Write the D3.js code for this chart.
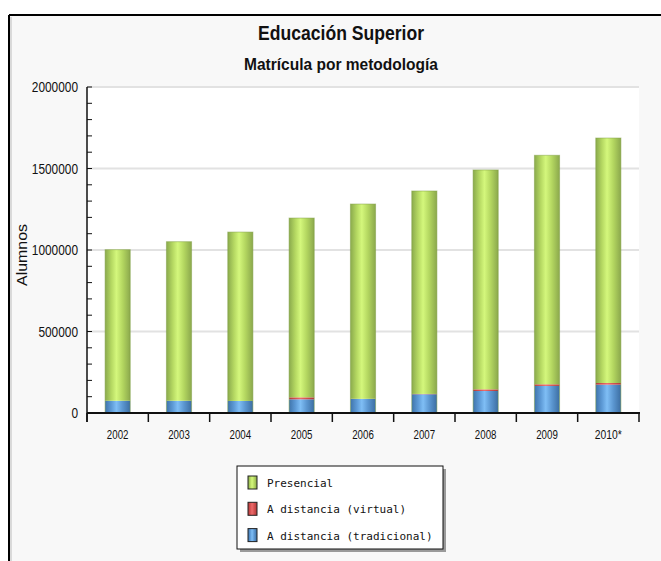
<!DOCTYPE html>
<html>
<head>
<meta charset="utf-8">
<script src="https://cdn.jsdelivr.net/npm/d3@7"></script>
<style>
  body { margin:0; background:#fff; }
  svg text { fill:#111; }
</style>
</head>
<body>
<div class="canvas"></div>
<script>
// data
const years = ['2002','2003','2004','2005','2006','2007','2008','2009','2010*'];
const tradicional = [75000, 75000, 74000, 84000, 86000, 115000, 135000, 166000, 174000];
const virtual = [0, 0, 0, 12000, 1000, 2000, 10000, 10000, 10000];
const presencial = [927000, 976000, 1036000, 1100000, 1195000, 1245000, 1346000, 1405000, 1503000];
const yTicks = [0, 500000, 1000000, 1500000, 2000000];
const seriesNames = ['Presencial', 'A distancia (virtual)', 'A distancia (tradicional)'];

const SANS = '"Liberation Sans", Arial, sans-serif';
const MONO = '"DejaVu Sans Mono", "Liberation Mono", monospace';

const W = 661, H = 561;
const svg = d3.select('.canvas')
  .append('svg')
    .attr('width', W)
    .attr('height', H)
    .style('font-family', SANS);

// plot box
const plot = {left:87, right:639, top:87, bottom:413};

// frame
svg.append('rect').attr('x',9).attr('y',15).attr('width',W).attr('height',H)
  .attr('fill','#f8f8f8');
svg.append('line').attr('x1',9).attr('x2',W).attr('y1',15).attr('y2',15)
  .attr('stroke','#000').attr('stroke-width',2);
svg.append('line').attr('x1',9).attr('x2',9).attr('y1',15).attr('y2',H)
  .attr('stroke','#000').attr('stroke-width',2);
svg.append('line').attr('x1',11).attr('x2',11).attr('y1',17).attr('y2',H)
  .attr('stroke','#bbb').attr('stroke-width',1);

svg.append('rect')
  .attr('x',plot.left).attr('y',plot.top)
  .attr('width',plot.right-plot.left).attr('height',plot.bottom-plot.top)
  .attr('fill','#fff');

// titles (narrow look via textLength)
svg.append('text').attr('x',341).attr('y',40).attr('text-anchor','middle')
  .attr('font-size',21).attr('font-weight','bold')
  .attr('textLength',166).attr('lengthAdjust','spacingAndGlyphs')
  .text('Educación Superior');
svg.append('text').attr('x',341).attr('y',70).attr('text-anchor','middle')
  .attr('font-size',16).attr('font-weight','bold')
  .attr('textLength',194).attr('lengthAdjust','spacingAndGlyphs')
  .text('Matrícula por metodología');

const y = d3.scaleLinear()
  .domain([0, 2000000])
  .range([plot.bottom, plot.top]);

const x = d3.scaleBand()
  .domain(years)
  .range([plot.left, plot.right])
  .paddingInner(0.59)
  .paddingOuter(0.295);

// gridlines
svg.append('g').selectAll('line')
  .data(yTicks.slice(1))
  .enter().append('line')
    .attr('x1',plot.left).attr('x2',plot.right)
    .attr('y1',d => y(d)).attr('y2',d => y(d))
    .attr('stroke','#e2e2e2').attr('stroke-width',2);

// gradients
const defs = svg.append('defs');
const grads = [
  {id:'gPres', stops:['#8aaa4c','#b5d862','#d4f77c','#b3d660','#8ba84c']},
  {id:'gVirt', stops:['#b03a3a','#d65252','#ec6c6c','#d45050','#ae3838']},
  {id:'gTrad', stops:['#3f74ab','#5d9ad6','#7fbef5','#5b96d0','#3c6ea2']}
];
grads.forEach(g => {
  const lg = defs.append('linearGradient').attr('id',g.id)
    .attr('x1','0%').attr('x2','100%').attr('y1','0%').attr('y2','0%');
  [0,0.25,0.45,0.7,1].forEach((o,i) => {
    lg.append('stop').attr('offset',o).attr('stop-color',g.stops[i]);
  });
});

// stacked data
const table = years.map((yr,i) => ({year:yr, trad:tradicional[i], virt:virtual[i], pres:presencial[i]}));
const stack = d3.stack().keys(['trad','virt','pres'])(table);
const fills = {trad:'url(#gTrad)', virt:'url(#gVirt)', pres:'url(#gPres)'};

svg.append('g').selectAll('g')
  .data(stack)
  .enter().append('g')
    .attr('fill', d => fills[d.key])
  .selectAll('rect')
  .data(d => d)
  .enter().append('rect')
    .attr('x', d => x(d.data.year))
    .attr('width', x.bandwidth())
    .attr('y', d => y(d[1]))
    .attr('height', d => y(d[0]) - y(d[1]));

// light outline on bars
svg.append('g').selectAll('rect')
  .data(table)
  .enter().append('rect')
    .attr('x', d => x(d.year))
    .attr('width', x.bandwidth())
    .attr('y', d => y(d.trad + d.virt + d.pres))
    .attr('height', d => y(0) - y(d.trad + d.virt + d.pres))
    .attr('fill','none')
    .attr('stroke','#7f9f44').attr('stroke-opacity',0.5).attr('stroke-width',1);

// y axis
const yMinor = d3.range(0, 2000001, 100000);
svg.append('g').selectAll('line')
  .data(yMinor)
  .enter().append('line')
    .attr('x1',plot.left).attr('x2',plot.left+5)
    .attr('y1',d => y(d)).attr('y2',d => y(d))
    .attr('stroke','#111').attr('stroke-width',1);
svg.append('line').attr('x1',plot.left).attr('x2',plot.left)
  .attr('y1',plot.top).attr('y2',plot.bottom+9)
  .attr('stroke','#111').attr('stroke-width',1.5);
svg.append('g').selectAll('text')
  .data(yTicks)
  .enter().append('text')
    .attr('x',78).attr('y',d => y(d)+5)
    .attr('text-anchor','end').attr('font-size',14)
    .attr('textLength',d => String(d).length * 6.6)
    .attr('lengthAdjust','spacingAndGlyphs')
    .text(d => d);

svg.append('text')
  .attr('transform','translate(27,255) rotate(-90)')
  .attr('text-anchor','middle').attr('font-size',14)
  .attr('textLength',62).attr('lengthAdjust','spacingAndGlyphs')
  .text('Alumnos');

// x axis
const step = x.step();
svg.append('line').attr('x1',plot.left).attr('x2',plot.right+1)
  .attr('y1',plot.bottom).attr('y2',plot.bottom)
  .attr('stroke','#111').attr('stroke-width',2);
svg.append('g').selectAll('line')
  .data(d3.range(years.length+1))
  .enter().append('line')
    .attr('x1',i => plot.left + i*step).attr('x2',i => plot.left + i*step)
    .attr('y1',plot.bottom).attr('y2',plot.bottom+9)
    .attr('stroke','#111').attr('stroke-width',1.5);
svg.append('g').selectAll('text')
  .data(years)
  .enter().append('text')
    .attr('x',d => x(d) + x.bandwidth()/2)
    .attr('y',439).attr('text-anchor','middle').attr('font-size',13)
    .attr('textLength',d => d.length * 5.4)
    .attr('lengthAdjust','spacingAndGlyphs')
    .text(d => d);

// legend
const legend = svg.append('g').attr('transform','translate(237,466)');
legend.append('rect').attr('x',3).attr('y',3).attr('width',206).attr('height',83).attr('fill','#9a9a9a');
legend.append('rect').attr('width',206).attr('height',83)
  .attr('fill','#fff').attr('stroke','#111').attr('stroke-width',1);
const legendFills = ['url(#gPres)','url(#gVirt)','url(#gTrad)'];
const items = legend.selectAll('g.item')
  .data(seriesNames)
  .enter().append('g')
    .attr('class','item')
    .attr('transform',(d,i) => `translate(0,${10 + i*26.3})`);
items.append('rect')
  .attr('x',11).attr('y',0).attr('width',9).attr('height',13)
  .attr('fill',(d,i) => legendFills[i]).attr('stroke','#222').attr('stroke-width',1);
items.append('text')
  .attr('x',30).attr('y',11)
  .style('font-family', MONO)
  .attr('font-size',11)
  .text(d => d);
</script>
</body>
</html>
